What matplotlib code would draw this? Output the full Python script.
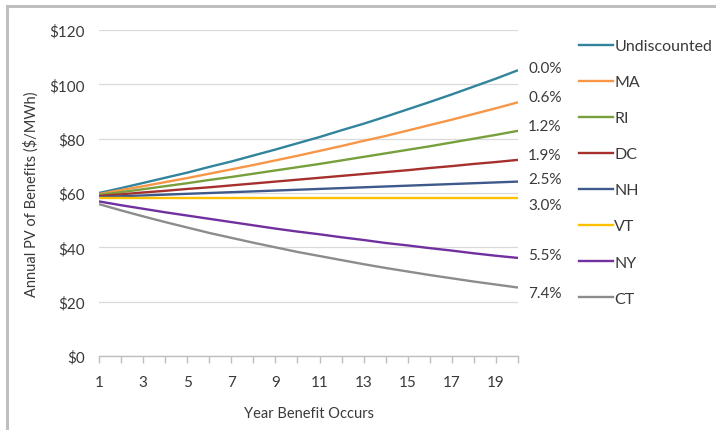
import matplotlib
matplotlib.use("Agg")
import matplotlib.pyplot as plt
import matplotlib.transforms as mtransforms
from matplotlib.lines import Line2D
from matplotlib.patches import Rectangle

plt.rcParams['font.family'] = ['Lato', 'DejaVu Sans']

years = list(range(1, 21))
series_names = ["Undiscounted", "MA", "RI", "DC", "NH", "VT", "NY", "CT"]
rate_labels = ["0.0%", "0.6%", "1.2%", "1.9%", "2.5%", "3.0%", "5.5%", "7.4%"]
rate_label_y = [106.0, 95.3, 84.7, 74.0, 65.1, 55.6, 37.2, 23.2]

undiscounted = [60.0, 61.8, 63.7, 65.6, 67.5, 69.6, 71.6, 73.8, 76.0, 78.3,
                80.6, 83.1, 85.5, 88.1, 90.8, 93.5, 96.3, 99.2, 102.1, 105.2]
ma = [59.6, 61.1, 62.5, 64.0, 65.5, 67.1, 68.7, 70.3, 72.0, 73.7,
      75.5, 77.3, 79.2, 81.0, 83.0, 85.0, 87.0, 89.1, 91.2, 93.4]
ri = [59.3, 60.3, 61.4, 62.5, 63.6, 64.8, 65.9, 67.1, 68.3, 69.5,
      70.7, 72.0, 73.3, 74.6, 75.9, 77.2, 78.6, 80.0, 81.4, 82.9]
dc = [58.9, 59.5, 60.2, 60.8, 61.5, 62.1, 62.8, 63.5, 64.2, 64.9,
      65.6, 66.3, 67.0, 67.7, 68.4, 69.2, 69.9, 70.7, 71.4, 72.2]
nh = [58.5, 58.8, 59.1, 59.4, 59.7, 60.0, 60.3, 60.6, 60.9, 61.2,
      61.5, 61.8, 62.1, 62.4, 62.7, 63.0, 63.3, 63.6, 63.9, 64.2]
vt = [58.3] * 20
ny = [56.9, 55.5, 54.2, 52.9, 51.7, 50.5, 49.3, 48.1, 46.9, 45.8,
      44.8, 43.7, 42.7, 41.6, 40.7, 39.7, 38.8, 37.8, 36.9, 36.1]
ct = [55.9, 53.6, 51.4, 49.3, 47.3, 45.3, 43.5, 41.7, 40.0, 38.3,
      36.8, 35.3, 33.8, 32.4, 31.1, 29.8, 28.6, 27.4, 26.3, 25.2]
series_values = [undiscounted, ma, ri, dc, nh, vt, ny, ct]
colors = ["#31849B", "#F79646", "#77A03C", "#A5302D", "#3E5A8C",
          "#FFC000", "#7030A0", "#8C8C8C"]

yticks = [0, 20, 40, 60, 80, 100, 120]
ytick_labels = ["$0", "$20", "$40", "$60", "$80", "$100", "$120"]
xtick_labels = [1, 3, 5, 7, 9, 11, 13, 15, 17, 19]

text_color = "#3A3A3A"

fig = plt.figure(figsize=(7.16, 4.31), dpi=100)
ax = fig.add_axes([99/716, 1 - 357/431, 419/716, 326/431])

for vals, col, name in zip(series_values, colors, series_names):
    ax.plot(years, vals, color=col, lw=1.7, label=name, solid_capstyle='butt')

ax.set_xlim(1, 20)
ax.set_ylim(0, 120)
ax.set_yticks(yticks)
ax.set_yticklabels(ytick_labels)
ax.set_xticks(years, minor=True)
ax.set_xticks(xtick_labels)
ax.set_xticklabels([str(v) for v in xtick_labels])
ax.yaxis.grid(True, color="#D9D9D9", lw=0.9)
ax.set_axisbelow(True)
for s in ["top", "right", "left"]:
    ax.spines[s].set_visible(False)
ax.spines["bottom"].set_color("#BFBFBF")
ax.spines["bottom"].set_linewidth(1.0)
ax.tick_params(axis='y', length=0, pad=10, labelsize=11, labelcolor=text_color)
ax.tick_params(axis='x', which='both', direction='out', length=5, color="#BFBFBF",
               width=1.0, labelsize=11, labelcolor=text_color, pad=9)
ax.tick_params(axis='x', which='minor', labelbottom=False)

ax.set_ylabel("Annual PV of Benefits ($/MWh)", fontsize=10.5, color=text_color, labelpad=8)
ax.set_xlabel("Year Benefit Occurs", fontsize=10.5, color=text_color, labelpad=12)

trans = mtransforms.blended_transform_factory(ax.transAxes, ax.transData)
for lab, yv in zip(rate_labels, rate_label_y):
    ax.text(1.024, yv, lab, transform=trans, ha='left', va='center',
            fontsize=11, color=text_color)

handles = [Line2D([], [], color=c, lw=1.7) for c in colors]
fig.legend(handles, series_names, loc='upper left', bbox_to_anchor=(579/716, 1 - 40/431),
           frameon=False, fontsize=11.5, handlelength=2.1, handletextpad=0.1,
           labelspacing=1.37, borderaxespad=0, borderpad=0, labelcolor=text_color)

fig.patches.append(Rectangle((7/716, -0.05), 1.2, 1 - 7/431 + 0.05, transform=fig.transFigure,
                             fill=False, edgecolor="#BFBFBF", lw=2.2))

fig.savefig("out.png", dpi=100)
